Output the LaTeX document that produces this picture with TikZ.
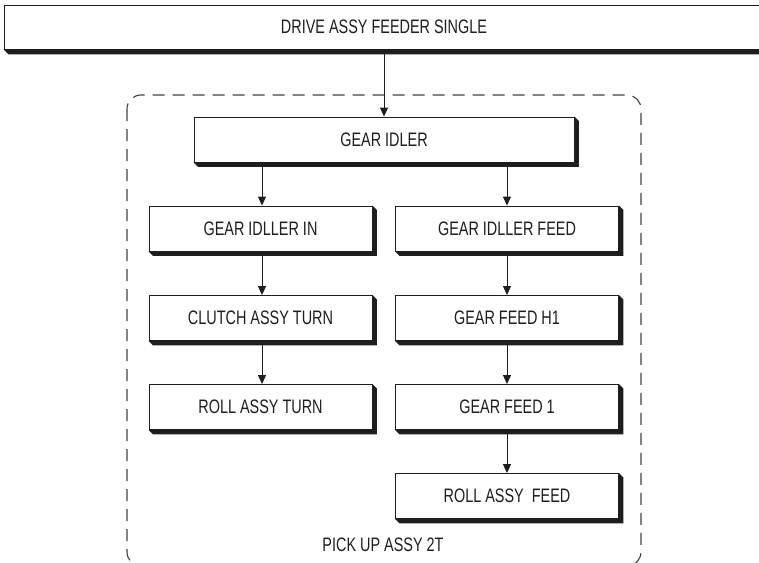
\documentclass[tikz,border=0pt]{standalone}
\usepackage{fontspec}
\setmainfont{Liberation Sans}[FakeStretch=0.74]
\usetikzlibrary{arrows.meta,calc}
\definecolor{ink}{HTML}{1E1E1E}
\tikzset{
  lbl/.style={text=ink, font=\fontsize{19.5}{22}\selectfont},
  shbox/.style={lbl, draw=ink, line width=0.9pt, fill=white, inner sep=0pt,
    minimum height=45pt},
  colbox/.style={shbox, minimum width=223pt},
  arr/.style={draw=ink, line width=0.9pt, -{Triangle[length=9pt,width=8pt]}},
  grp/.style={draw=ink!85, line width=1.1pt, dash pattern=on 12pt off 8pt, rounded corners=14pt},
  shad/.style={fill=ink}
}
\newcommand{\boxshadow}[2]{%
  \fill[shad] (#1.south west) -- ++(#2,#2) -- ($(#1.south east)+(#2,#2)$)
    -- ($(#1.north east)+(#2,#2)$) -- (#1.north east) -- (#1.south east) -- cycle;}
\begin{document}
\begin{tikzpicture}[x=1pt,y=-1pt]
\useasboundingbox (0,0) rectangle (759,562);
\begin{scope}
\clip (0,0) rectangle (759,562);
% group
\draw[grp] (127,95) rectangle (641,566);
\node[lbl] (grplabel) at (383,545) {PICK UP ASSY 2T};
% boxes
\node[shbox, minimum width=760pt, minimum height=44pt] (top) at (384,27) {DRIVE ASSY FEEDER SINGLE};
\node[shbox, minimum width=380pt] (gi) at (384,139.5) {GEAR IDLER};
\node[colbox] (l1) at (260.5,228.5) {GEAR IDLLER IN};
\node[colbox] (l2) at (260.5,318) {CLUTCH ASSY TURN};
\node[colbox] (l3) at (260.5,407) {ROLL ASSY TURN};
\node[colbox] (r1) at (507,228.5) {GEAR IDLLER FEED};
\node[colbox] (r2) at (507,318) {GEAR FEED H1};
\node[colbox] (r3) at (507,407) {GEAR FEED 1};
\node[colbox] (r4) at (507,496) {ROLL ASSY \ FEED};
\boxshadow{top}{5}
\boxshadow{gi}{4.5}
\foreach \n in {l1,l2,l3,r1,r2,r3,r4}{\boxshadow{\n}{4.5}}
% connectors
\coordinate (topout) at ($(top.south)+(0,5)$);
\draw[arr] (topout) -- (topout |- gi.north);
\coordinate (gil) at ($(gi.south -| l1.north)+(1.5,4.5)$);
\coordinate (gir) at ($(gi.south -| r1.north)+(0,4.5)$);
\draw[arr] (gil) -- (gil |- l1.north);
\draw[arr] (gir) -- (gir |- r1.north);
\draw[arr] ($(l1.south)+(1.5,4.5)$) -- ($(l2.north)+(1.5,0)$);
\draw[arr] ($(l2.south)+(1.5,4.5)$) -- ($(l3.north)+(1.5,0)$);
\draw[arr] ($(r1.south)+(0,4.5)$) -- (r2.north);
\draw[arr] ($(r2.south)+(0,4.5)$) -- (r3.north);
\draw[arr] ($(r3.south)+(0,4.5)$) -- (r4.north);
\end{scope}
\end{tikzpicture}
\end{document}
